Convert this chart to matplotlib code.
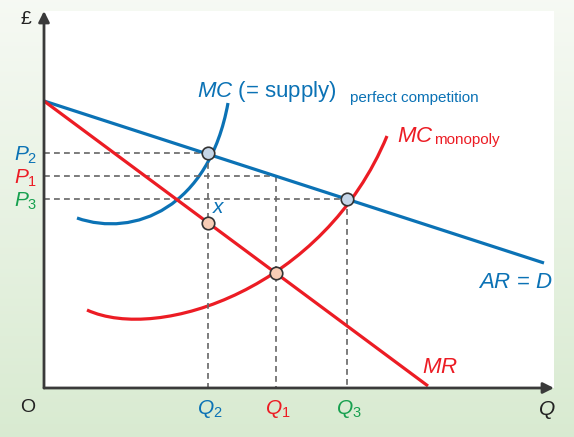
import numpy as np
import matplotlib
matplotlib.use("Agg")
import matplotlib.pyplot as plt
from matplotlib.path import Path
from matplotlib.patches import PathPatch

plt.rcParams['font.family'] = ['Liberation Sans', 'DejaVu Sans']
plt.rcParams['mathtext.fontset'] = 'custom'
plt.rcParams['mathtext.rm'] = 'Liberation Sans'
plt.rcParams['mathtext.it'] = 'Liberation Sans:italic'

# ---- data (Q along x, £ along y) ----
ar_q = [0, 500]
ar_p = [287, 125]
mr_q = [0, 384]
mr_p = [287, 2]

# bezier control points for the two MC curves
mc_pc_q = [33, 90, 165, 184]
mc_pc_p = [170, 150, 180, 285]
mc_mono_q = [43, 115, 280, 343]
mc_mono_p = [78, 45, 100, 252]

q_vals = [164, 232, 303]          # Q2, Q1, Q3
p_vals = [235, 212, 189]          # P2, P1, P3
q_names = ['Q_\\mathrm{2}', 'Q_\\mathrm{1}', 'Q_\\mathrm{3}']
p_names = ['P_\\mathrm{2}', 'P_\\mathrm{1}', 'P_\\mathrm{3}']

blue_pts_q = [164, 303]
blue_pts_p = [235, 189]
peach_pts_q = [164, 232]
peach_pts_p = [165, 115]

BLUE = '#0b72b5'
RED = '#ec1c24'
GREEN = '#17a04f'
label_colors = [BLUE, RED, GREEN]

fig = plt.figure(figsize=(5.74, 4.37), dpi=100)

# background gradient
bg = fig.add_axes([0, 0, 1, 1])
top = np.array([0.965, 0.978, 0.955])
bot = np.array([0.85, 0.92, 0.82])
grad = np.linspace(0, 1, 200)[:, None, None] * (bot - top) + top
grad = np.repeat(grad, 2, axis=1)
bg.imshow(grad, extent=[0, 1, 0, 1], aspect='auto')
bg.axis('off')

ax = fig.add_axes([44 / 574, 49 / 437, 510 / 574, 377 / 437])
ax.set_xlim(0, 510)
ax.set_ylim(0, 377)
ax.set_facecolor('white')
for s in ax.spines.values():
    s.set_visible(False)
ax.set_xticks([])
ax.set_yticks([])

# axes with arrows
ax.annotate('', xy=(510, 0), xytext=(0, 0), annotation_clip=False,
            arrowprops=dict(arrowstyle='-|>', color='#3a3a3a', lw=2,
                            mutation_scale=16, shrinkA=0, shrinkB=0))
ax.annotate('', xy=(0, 377), xytext=(0, 0), annotation_clip=False,
            arrowprops=dict(arrowstyle='-|>', color='#3a3a3a', lw=2,
                            mutation_scale=16, shrinkA=0, shrinkB=0))

# dashed guide lines
for q, p in zip(q_vals, p_vals):
    ax.plot([0, q], [p, p], ls=(0, (3.5, 2.5)), color='#666666', lw=1.2)
    ax.plot([q, q], [p, 0], ls=(0, (3.5, 2.5)), color='#666666', lw=1.2)

# curves
ax.plot(ar_q, ar_p, color=BLUE, lw=2.3, solid_capstyle='butt')
ax.plot(mr_q, mr_p, color=RED, lw=2.3, solid_capstyle='butt')

codes = [Path.MOVETO, Path.CURVE4, Path.CURVE4, Path.CURVE4]
ax.add_patch(PathPatch(Path(list(zip(mc_pc_q, mc_pc_p)), codes),
                       fc='none', ec=BLUE, lw=2.3, capstyle='butt'))
ax.add_patch(PathPatch(Path(list(zip(mc_mono_q, mc_mono_p)), codes),
                       fc='none', ec=RED, lw=2.3, capstyle='butt'))

# points
ax.plot(blue_pts_q, blue_pts_p, 'o', ms=9, mfc='#c6d6e8', mec='#333333', mew=1.2, zorder=5)
ax.plot(peach_pts_q, peach_pts_p, 'o', ms=9, mfc='#f7cdb6', mec='#333333', mew=1.2, zorder=5)

# labels
for q, name, c in zip(q_vals, q_names, label_colors):
    ax.text(q + 2, -21, '$' + name + '$', color=c, fontsize=15, ha='center', va='center')
for p, name, c in zip(p_vals, p_names, label_colors):
    ax.text(-7, p - 2, '$' + name + '$', color=c, fontsize=15, ha='right', va='center')

ax.text(-18, 368, '£', fontsize=14, ha='center', va='center', color='#222222', clip_on=False)
ax.text(-16, -20, 'O', fontsize=14, ha='center', va='center', color='#222222')
ax.text(503, -22, '$Q$', fontsize=15, ha='center', va='center', color='#222222')

ax.text(153, 291, r'$MC$ (= supply)', color=BLUE, fontsize=16, ha='left', va='baseline')
ax.text(306, 286, 'perfect competition', color=BLUE, fontsize=11, ha='left', va='baseline')
ax.text(353, 246, r'$MC$', color=RED, fontsize=16, ha='left', va='baseline')
ax.text(390, 244, 'monopoly', color=RED, fontsize=11, ha='left', va='baseline')
ax.text(434, 100, r'$AR$ = $D$', color=BLUE, fontsize=16, ha='left', va='baseline')
ax.text(378, 15, r'$MR$', color=RED, fontsize=16, ha='left', va='baseline')
ax.text(168, 175, r'$x$', color=BLUE, fontsize=15, ha='left', va='baseline')

fig.savefig('out.png', dpi=100)
